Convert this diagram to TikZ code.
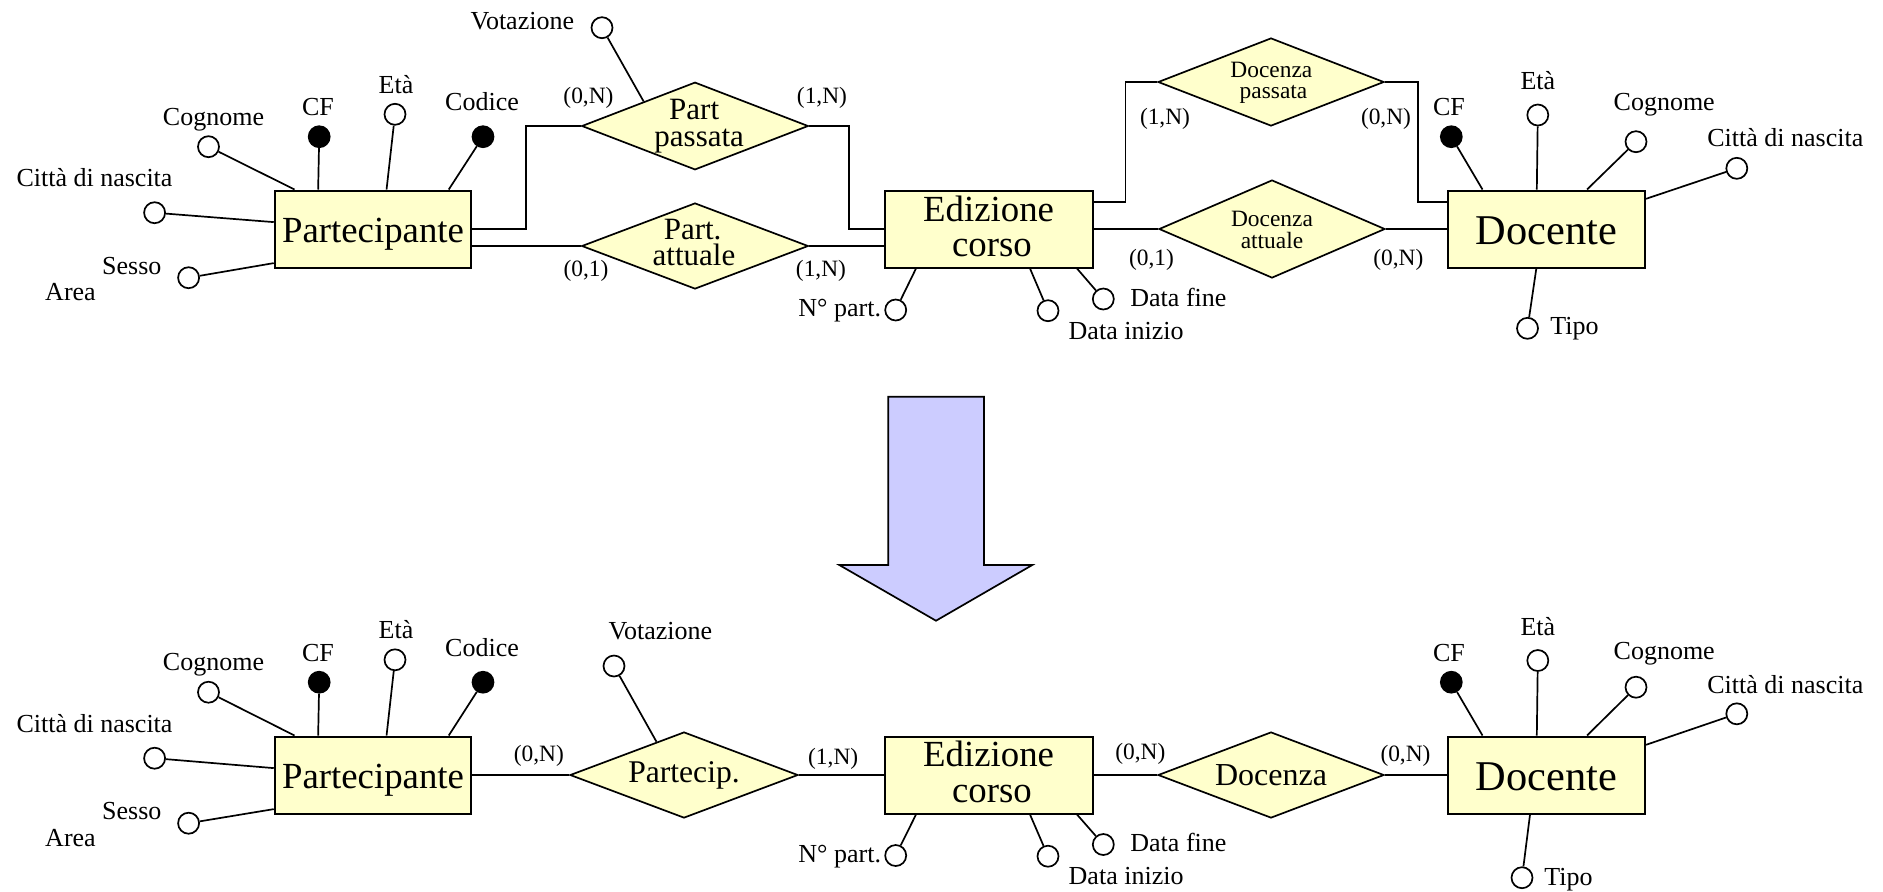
\documentclass[tikz,border=0pt]{standalone}
\usepackage{fontspec}
\setmainfont{Liberation Serif}
\usetikzlibrary{shapes.geometric,calc}
\definecolor{entfill}{RGB}{255,255,204}
\definecolor{arrowfill}{RGB}{204,204,255}
\begin{document}
\begin{tikzpicture}[x=0.5pt,y=-0.5pt,
  entity/.style={draw, fill=entfill, line width=1pt, minimum width=#1, minimum height=38.5pt, inner sep=0pt},
  rel/.style={diamond, aspect=2.65, draw, fill=entfill, line width=0.85pt, inner sep=0pt},
  attr/.style={circle, draw, fill=white, line width=0.85pt, minimum size=10.5pt, inner sep=0pt},
  keyattr/.style={attr, fill=black},
  conn/.style={line width=0.85pt},
  lbl/.style={font=\fontsize{13pt}{15pt}\selectfont, inner sep=0pt, anchor=base},
  card/.style={font=\fontsize{11.7pt}{14pt}\selectfont, inner sep=0pt, anchor=base},
  etxt/.style={font=\fontsize{18.4pt}{20pt}\selectfont, inner sep=0pt, anchor=base},
  rtxt/.style={font=\fontsize{15.5pt}{17pt}\selectfont, inner sep=0pt, anchor=base},
  dtxt/.style={font=\fontsize{11.7pt}{13pt}\selectfont, inner sep=0pt, anchor=base},
  btxt/.style={font=\fontsize{15.8pt}{17pt}\selectfont},
  pfont/.style={font=\fontsize{18.4pt}{20pt}\selectfont, text height=13.5pt, text depth=0pt},
  dfont/.style={font=\fontsize{21.2pt}{23pt}\selectfont, text height=15.8pt, text depth=0pt}
]
\path[use as bounding box] (0,0) rectangle (1883,891);

% ================= TOP DIAGRAM =================
\node[entity=98.25pt, pfont] (P1) at (373,229) {Partecipante};
\node[entity=103.8pt] (E1) at (988.8,229) {};
\node[etxt] (E1a) at (988.6,221) {Edizione};
\node[etxt] (E1b) at (992,256.7) {corso};
\node[entity=98.5pt, dfont] (D1) at (1546.5,229) {Docente};

\node[rel, minimum width=113.3pt, minimum height=43.8pt] (R1) at (695,126) {};
\node[rtxt] (R1a) at (694.2,119) {Part};
\node[rtxt] (R1b) at (699.2,146.7) {passata};
\node[rel, minimum width=113.3pt, minimum height=43pt] (R2) at (695,246) {};
\node[rtxt] (R2a) at (692.6,239.3) {Part.};
\node[rtxt] (R2b) at (694,265.7) {attuale};
\node[rel, minimum width=113pt, minimum height=44pt] (DP) at (1271,82) {};
\node[dtxt] (DPa) at (1271.4,77.3) {Docenza};
\node[dtxt] (DPb) at (1273.5,98.3) {passata};
\node[rel, minimum width=113pt, minimum height=49pt] (DA) at (1272,229) {};
\node[dtxt] (DAa) at (1272,226) {Docenza};
\node[dtxt] (DAb) at (1272,248.3) {attuale};

\draw[conn] (P1.east) -- ++(54,0) |- (R1.west);
\draw[conn] (R2.west) -- (R2.west -| P1.east);
\draw[conn] (R1.east) -- ++(40,0) |- (E1.west);
\draw[conn] (R2.east) -- (R2.east -| E1.west);
\draw[conn] ($(E1.east)+(0,-27)$) -- ++(32,0) |- (DP.west);
\draw[conn] (E1.east) -- (DA.west);
\draw[conn] (DP.east) -- ++(33,0) |- ($(D1.west)+(0,-27)$);
\draw[conn] (DA.east) -- (D1.west);

\node[card] (c1) at (588.5,103.3) {(0,N)};
\node[card] (c2) at (822,103.3) {(1,N)};
\node[card] (c3) at (586,276.7) {(0,1)};
\node[card] (c4) at (821,276.7) {(1,N)};
\node[card] (c5) at (1165,124) {(1,N)};
\node[card] (c6) at (1386,124) {(0,N)};
\node[card] (c7) at (1151.5,265.7) {(0,1)};
\node[card] (c8) at (1398.3,265.7) {(0,N)};

% Partecipante attributes
\node[attr] (P1cog) at (208.5,146.7) {};
\node[keyattr] (P1cf) at (319.2,136.7) {};
\node[attr] (P1eta) at (395,114.3) {};
\node[keyattr] (P1cod) at (483,136.7) {};
\node[attr] (P1cit) at (154.6,212.7) {};
\node[attr] (P1ses) at (188.6,277.7) {};
\draw[conn] (P1cog) -- ($(P1.north west)+(20.8,0)$);
\draw[conn] (P1cf) -- ($(P1.north west)+(44.4,0)$);
\draw[conn] (P1eta) -- ($(P1.north west)+(112.8,0)$);
\draw[conn] (P1cod) -- ($(P1.north west)+(175,0)$);
\draw[conn] (P1cit) -- ($(P1.north west)+(0,32.6)$);
\draw[conn] (P1ses) -- ($(P1.north west)+(0,73.6)$);
\node[lbl] (P1cogl) at (213.5,125) {Cognome};
\node[lbl] (P1cfl) at (318,115.7) {CF};
\node[lbl] (P1etal) at (396,93.3) {Età};
\node[lbl] (P1codl) at (482,110.5) {Codice};
\node[lbl] (P1citl) at (94.5,186.7) {Città di nascita};
\node[lbl] (P1sesl) at (131.8,274) {Sesso};
\node[lbl] (P1areal) at (70.5,300.5) {Area};

\node[attr] (V1) at (602,27.7) {};
\draw[conn] (V1) -- ($(R1.west)!0.55!(R1.north)$);
\node[lbl] (V1l) at (522.3,29.3) {Votazione};

% Edizione corso attributes
\node[attr] (E1np) at (895.7,310) {};
\node[attr] (E1di) at (1048,310.7) {};
\node[attr] (E1df) at (1103.3,299) {};
\draw[conn] (E1np) -- ($(E1.south west)+(32,0)$);
\draw[conn] (E1di) -- ($(E1.south west)+(146,0)$);
\draw[conn] (E1df) -- ($(E1.south west)+(193,0)$);
\node[lbl, anchor=base east] (E1npl) at (881.4,316.7) {N° part.};
\node[lbl, anchor=base west] (E1dil) at (1068.3,339.3) {Data inizio};
\node[lbl, anchor=base west] (E1dfl) at (1130,306) {Data fine};

% Docente attributes
\node[keyattr] (D1cf) at (1451.3,136.7) {};
\node[attr] (D1eta) at (1537.8,115) {};
\node[attr] (D1cog) at (1636,141.7) {};
\node[attr] (D1cit) at (1736.8,168.3) {};
\node[attr] (D1tip) at (1527.5,328.3) {};
\draw[conn] (D1cf) -- ($(D1.north west)+(35.5,0)$);
\draw[conn] (D1eta) -- ($(D1.north west)+(89.8,0)$);
\draw[conn] (D1cog) -- ($(D1.north west)+(140,0)$);
\draw[conn] (D1cit) -- ($(D1.north east)+(0,9.3)$);
\draw[conn] (D1tip) -- ($(D1.south west)+(89.3,0)$);
\node[lbl] (D1cfl) at (1449,115) {CF};
\node[lbl] (D1etal) at (1537.8,89.3) {Età};
\node[lbl] (D1cogl) at (1664.2,110.7) {Cognome};
\node[lbl] (D1citl) at (1785.3,146.7) {Città di nascita};
\node[lbl, anchor=base west] (D1tipl) at (1550,334.3) {Tipo};

% ================= ARROW =================
\draw[line width=0.85pt, fill=arrowfill] (888.3,396.7) -- (984,396.7) -- (984,565) -- (1032.3,565)
  -- (936,620.7) -- (839.3,565) -- (888.3,565) -- cycle;

% ================= BOTTOM DIAGRAM =================
\node[entity=98.25pt, pfont] (P2) at (373,775) {Partecipante};
\node[entity=103.8pt] (E2) at (988.8,775) {};
\node[etxt] (E2a) at (988.6,766.5) {Edizione};
\node[etxt] (E2b) at (992,802.2) {corso};
\node[entity=98.5pt, dfont] (D2) at (1546.5,775) {Docente};

\node[rel, btxt, minimum width=114pt, minimum height=43pt] (RP) at (684,775) {Partecip.};
\node[rel, btxt, font=\fontsize{16pt}{18pt}\selectfont, minimum width=113pt, minimum height=43pt] (DC) at (1271,775) {Docenza};

\draw[conn] (P2.east) -- (RP.west);
\draw[conn] (RP.east) -- (E2.west);
\draw[conn] (E2.east) -- (DC.west);
\draw[conn] (DC.east) -- (D2.west);

\node[card] (b1) at (538.9,761.7) {(0,N)};
\node[card] (b2) at (833.2,764) {(1,N)};
\node[card] (b3) at (1140.4,759.3) {(0,N)};
\node[card] (b4) at (1405.5,761) {(0,N)};

% Partecipante attributes
\node[attr] (P2cog) at (208.5,692.2) {};
\node[keyattr] (P2cf) at (319.2,682.2) {};
\node[attr] (P2eta) at (395,659.8) {};
\node[keyattr] (P2cod) at (483,682.2) {};
\node[attr] (P2cit) at (154.6,758.2) {};
\node[attr] (P2ses) at (188.6,823.2) {};
\draw[conn] (P2cog) -- ($(P2.north west)+(20.8,0)$);
\draw[conn] (P2cf) -- ($(P2.north west)+(44.4,0)$);
\draw[conn] (P2eta) -- ($(P2.north west)+(112.8,0)$);
\draw[conn] (P2cod) -- ($(P2.north west)+(175,0)$);
\draw[conn] (P2cit) -- ($(P2.north west)+(0,32.6)$);
\draw[conn] (P2ses) -- ($(P2.north west)+(0,73.6)$);
\node[lbl] (P2cogl) at (213.5,670.5) {Cognome};
\node[lbl] (P2cfl) at (318,661.2) {CF};
\node[lbl] (P2etal) at (396,638.8) {Età};
\node[lbl] (P2codl) at (482,656) {Codice};
\node[lbl] (P2citl) at (94.5,732.2) {Città di nascita};
\node[lbl] (P2sesl) at (131.8,819.5) {Sesso};
\node[lbl] (P2areal) at (70.5,846) {Area};

\node[attr] (V2) at (614,666) {};
\draw[conn] (V2) -- ($(RP.west)!0.76!(RP.north)$);
\node[lbl] (V2l) at (660.4,639) {Votazione};

% Edizione corso attributes
\node[attr] (E2np) at (895.7,855.5) {};
\node[attr] (E2di) at (1048,856.2) {};
\node[attr] (E2df) at (1103.3,844.5) {};
\draw[conn] (E2np) -- ($(E2.south west)+(32,0)$);
\draw[conn] (E2di) -- ($(E2.south west)+(146,0)$);
\draw[conn] (E2df) -- ($(E2.south west)+(193,0)$);
\node[lbl, anchor=base east] (E2npl) at (881.4,862.2) {N° part.};
\node[lbl, anchor=base west] (E2dil) at (1068.3,884.8) {Data inizio};
\node[lbl, anchor=base west] (E2dfl) at (1130,851.5) {Data fine};

% Docente attributes
\node[keyattr] (D2cf) at (1451.3,682.2) {};
\node[attr] (D2eta) at (1537.8,660.5) {};
\node[attr] (D2cog) at (1636,687.2) {};
\node[attr] (D2cit) at (1736.8,713.8) {};
\node[attr] (D2tip) at (1522,877.7) {};
\draw[conn] (D2cf) -- ($(D2.north west)+(35.5,0)$);
\draw[conn] (D2eta) -- ($(D2.north west)+(89.8,0)$);
\draw[conn] (D2cog) -- ($(D2.north west)+(140,0)$);
\draw[conn] (D2cit) -- ($(D2.north east)+(0,9.3)$);
\draw[conn] (D2tip) -- ($(D2.south west)+(83,0)$);
\node[lbl] (D2cfl) at (1449,661.5) {CF};
\node[lbl] (D2etal) at (1537.8,635.8) {Età};
\node[lbl] (D2cogl) at (1664.2,659.7) {Cognome};
\node[lbl] (D2citl) at (1785.3,693.2) {Città di nascita};
\node[lbl, anchor=base west] (D2tipl) at (1544,885) {Tipo};
\end{tikzpicture}
\end{document}
